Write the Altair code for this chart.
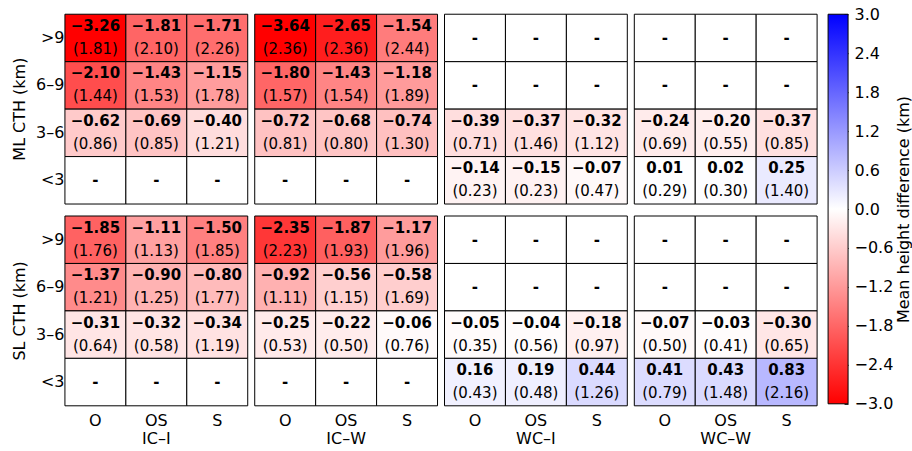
import altair as alt
import pandas as pd

# Category axes
cth_bins = [">9", "6–9", "3–6", "<3"]
retrievals = ["O", "OS", "S"]
cloud_types = ["IC–I", "IC–W", "WC–I", "WC–W"]
methods = ["ML CTH (km)", "SL CTH (km)"]
NA = [None, None, None]

# Mean height differences (km), rows follow cth_bins, columns follow retrievals
ml_mean = {
    "IC–I": [[-3.26, -1.81, -1.71], [-2.10, -1.43, -1.15], [-0.62, -0.69, -0.40], NA],
    "IC–W": [[-3.64, -2.65, -1.54], [-1.80, -1.43, -1.18], [-0.72, -0.68, -0.74], NA],
    "WC–I": [NA, NA, [-0.39, -0.37, -0.32], [-0.14, -0.15, -0.07]],
    "WC–W": [NA, NA, [-0.24, -0.20, -0.37], [0.01, 0.02, 0.25]],
}
ml_sd = {
    "IC–I": [[1.81, 2.10, 2.26], [1.44, 1.53, 1.78], [0.86, 0.85, 1.21], NA],
    "IC–W": [[2.36, 2.36, 2.44], [1.57, 1.54, 1.89], [0.81, 0.80, 1.30], NA],
    "WC–I": [NA, NA, [0.71, 1.46, 1.12], [0.23, 0.23, 0.47]],
    "WC–W": [NA, NA, [0.69, 0.55, 0.85], [0.29, 0.30, 1.40]],
}
sl_mean = {
    "IC–I": [[-1.85, -1.11, -1.50], [-1.37, -0.90, -0.80], [-0.31, -0.32, -0.34], NA],
    "IC–W": [[-2.35, -1.87, -1.17], [-0.92, -0.56, -0.58], [-0.25, -0.22, -0.06], NA],
    "WC–I": [NA, NA, [-0.05, -0.04, -0.18], [0.16, 0.19, 0.44]],
    "WC–W": [NA, NA, [-0.07, -0.03, -0.30], [0.41, 0.43, 0.83]],
}
sl_sd = {
    "IC–I": [[1.76, 1.13, 1.85], [1.21, 1.25, 1.77], [0.64, 0.58, 1.19], NA],
    "IC–W": [[2.23, 1.93, 1.96], [1.11, 1.15, 1.69], [0.53, 0.50, 0.76], NA],
    "WC–I": [NA, NA, [0.35, 0.56, 0.97], [0.43, 0.48, 1.26]],
    "WC–W": [NA, NA, [0.50, 0.41, 0.65], [0.79, 1.48, 2.16]],
}

cbar_ticks = [-3.0, -2.4, -1.8, -1.2, -0.6, 0.0, 0.6, 1.2, 1.8, 2.4, 3.0]
cbar_extent = [-3.0, 3.0]

records = []
for method, means, sds in [(methods[0], ml_mean, ml_sd), (methods[1], sl_mean, sl_sd)]:
    for ct in cloud_types:
        for i, b in enumerate(cth_bins):
            for j, r in enumerate(retrievals):
                records.append(dict(method=method, ctype=ct, cth=b, retr=r,
                                    mean=means[ct][i][j], sd=sds[ct][i][j]))
df = pd.DataFrame(records)

FONT = "DejaVu Sans"
LABEL_SIZE = 16
CELL_SIZE = 15
color_scale = alt.Scale(domain=[-3, 0, 3], range=["#ff0000", "#ffffff", "#0000ff"],
                        clamp=True, interpolate="rgb")

x_enc = alt.X("retr:N", sort=retrievals, scale=alt.Scale(paddingInner=0, paddingOuter=0),
              axis=alt.Axis(title=None, labelAngle=0, ticks=False, tickSize=0, domain=False,
                            labelFontSize=LABEL_SIZE, labelPadding=6, labelColor="black"))
y_enc = alt.Y("cth:N", sort=cth_bins, scale=alt.Scale(paddingInner=0, paddingOuter=0),
              axis=alt.Axis(title=None, ticks=False, tickSize=0, domain=False,
                            labelFontSize=LABEL_SIZE, labelPadding=0, labelColor="black"))

cells = alt.Chart().transform_calculate(
    fillv="isValid(datum.mean) ? datum.mean : 0"
).mark_rect(stroke="black", strokeWidth=1).encode(
    x=x_enc, y=y_enc,
    color=alt.Color("fillv:Q", scale=color_scale, legend=None),
)

mean_text = alt.Chart().transform_filter("isValid(datum.mean)").transform_calculate(
    lab="format(datum.mean, '.2f')"
).mark_text(fontWeight="bold", fontSize=CELL_SIZE, dy=-12, color="black").encode(
    x=x_enc, y=y_enc, text="lab:N")

sd_text = alt.Chart().transform_filter("isValid(datum.sd)").transform_calculate(
    lab="'(' + format(datum.sd, '.2f') + ')'"
).mark_text(fontSize=CELL_SIZE, dy=11, color="black").encode(
    x=x_enc, y=y_enc, text="lab:N")

dash_text = alt.Chart().transform_filter("!isValid(datum.mean)").transform_calculate(
    lab="'-'"
).mark_text(fontWeight="bold", fontSize=CELL_SIZE, color="black").encode(
    x=x_enc, y=y_enc, text="lab:N")

panels = alt.layer(cells, mean_text, sd_text, dash_text, data=df).properties(
    width=183, height=190
).facet(
    row=alt.Row("method:N", sort=methods,
                header=alt.Header(title=None, labelOrient="left", labelAngle=-90,
                                  labelFontSize=LABEL_SIZE, labelPadding=0, labelColor="black")),
    column=alt.Column("ctype:N", sort=cloud_types,
                      header=alt.Header(title=None, labelOrient="bottom",
                                        labelFontSize=LABEL_SIZE, labelPadding=2,
                                        labelColor="black")),
    spacing={"row": 10, "column": 5},
)

# Colour bar: gradient rectangle spanning the colour domain, ticks drawn inside its right edge
grad = alt.LinearGradient(
    gradient="linear",
    stops=[alt.GradientStop(color="#0000ff", offset=0),
           alt.GradientStop(color="#ffffff", offset=0.5),
           alt.GradientStop(color="#ff0000", offset=1)],
    x1=0, x2=0, y1=0, y2=1,
)
cb_y_scale = alt.Scale(domain=cbar_extent, nice=False, zero=False)
cbar = alt.Chart(pd.DataFrame({"lo": [cbar_extent[0]], "hi": [cbar_extent[1]]})).mark_rect(
    fill=grad, stroke="black", strokeWidth=1
).encode(
    y=alt.Y("lo:Q", scale=cb_y_scale,
            axis=alt.Axis(orient="right", values=cbar_ticks, format=".1f",
                          ticks=True, tickSize=4, tickColor="black", tickWidth=1, offset=-4,
                          domain=False, grid=False, labelFontSize=LABEL_SIZE, labelPadding=6,
                          labelOverlap=False, labelFlush=False, labelBound=False,
                          labelColor="black", title="Mean height difference (km)",
                          titleFontSize=LABEL_SIZE, titleFontWeight="normal", titleAngle=270,
                          titleBaseline="top", titleColor="black", titlePadding=3)),
    y2="hi:Q",
    x=alt.value(0), x2=alt.value(20),
).properties(width=20, height=390)

chart = alt.hconcat(panels, cbar, spacing=9).properties(
    padding={"left": 11, "top": 6, "right": 0, "bottom": 0}
).configure(font=FONT).configure_view(stroke=None)

chart.save("out.html", embed_options={"renderer": "svg", "actions": False})
